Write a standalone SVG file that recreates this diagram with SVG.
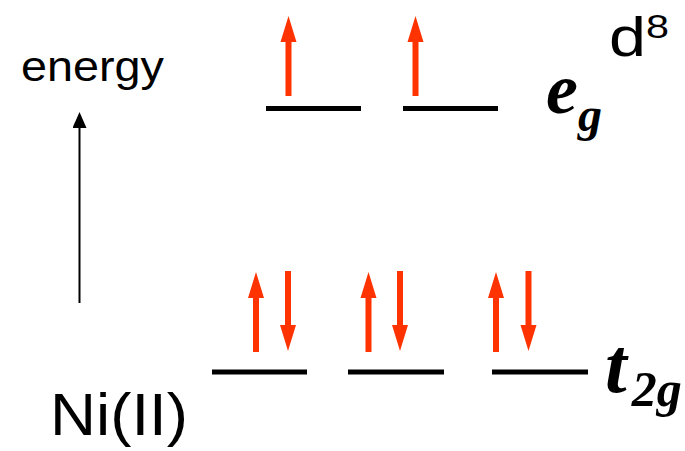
<svg xmlns="http://www.w3.org/2000/svg" xmlns:xlink="http://www.w3.org/1999/xlink" width="685" height="451" viewBox="0 0 685 451">
<style>
.lvl{stroke:#000;stroke-width:5;fill:none}
.sans{font-family:"Liberation Sans",Arial,sans-serif;fill:#000}
.orb{font-family:"Liberation Serif","Times New Roman",serif;font-weight:bold;font-style:italic;fill:#000}
.el{fill:#ff3300}
</style>
<defs>
<path id="up" d="M0,0 L8,26 L3,26 L3,80 L-3,80 L-3,26 L-8,26 Z"/>
<path id="dn" d="M0,0 L8,-26 L3,-26 L3,-80 L-3,-80 L-3,-26 L-8,-26 Z"/>
<marker id="ah" markerWidth="16" markerHeight="14" refX="-8" refY="0" orient="auto" markerUnits="userSpaceOnUse" viewBox="-16 -7 16 14">
<path d="M0,0 L-16,-7 L-16,7 Z" fill="#000"/>
</marker>
</defs>
<g id="eg1">
<line class="lvl" x1="266" y1="108.5" x2="361" y2="108.5"/>
<use xlink:href="#up" class="el" x="288.5" y="16"/>
</g>
<g id="eg2">
<line class="lvl" x1="403" y1="108.5" x2="498" y2="108.5"/>
<use xlink:href="#up" class="el" x="415.5" y="16"/>
</g>
<g id="t2g1">
<line class="lvl" x1="212" y1="372" x2="307" y2="372"/>
<use xlink:href="#up" class="el" x="256" y="272"/>
<use xlink:href="#dn" class="el" x="288" y="351"/>
</g>
<g id="t2g2">
<line class="lvl" x1="348" y1="372" x2="444" y2="372"/>
<use xlink:href="#up" class="el" x="368.5" y="272"/>
<use xlink:href="#dn" class="el" x="400" y="351"/>
</g>
<g id="t2g3">
<line class="lvl" x1="492" y1="372" x2="588" y2="372"/>
<use xlink:href="#up" class="el" x="496" y="272"/>
<use xlink:href="#dn" class="el" x="528.5" y="351"/>
</g>
<g id="labels">
<text class="sans" x="21" y="81" font-size="42" textLength="143" lengthAdjust="spacingAndGlyphs">energy</text>
<text class="sans" x="50" y="435" font-size="60" textLength="138" lengthAdjust="spacingAndGlyphs">Ni(II)</text>
<text class="sans" x="609" y="56" font-size="56" textLength="37" lengthAdjust="spacingAndGlyphs">d</text>
<text class="sans" x="646" y="38" font-size="34" textLength="23" lengthAdjust="spacingAndGlyphs">8</text>
<text class="orb" x="546" y="113" font-size="72">e<tspan font-size="48" dy="18">g</tspan></text>
<text class="orb" x="605" y="392" font-size="78">t<tspan font-size="50" dx="5" dy="14">2g</tspan></text>
</g>
<g id="connectors">
<line x1="79.5" y1="303" x2="79.5" y2="120" stroke="#000" stroke-width="2" marker-end="url(#ah)"/>
</g>
</svg>
